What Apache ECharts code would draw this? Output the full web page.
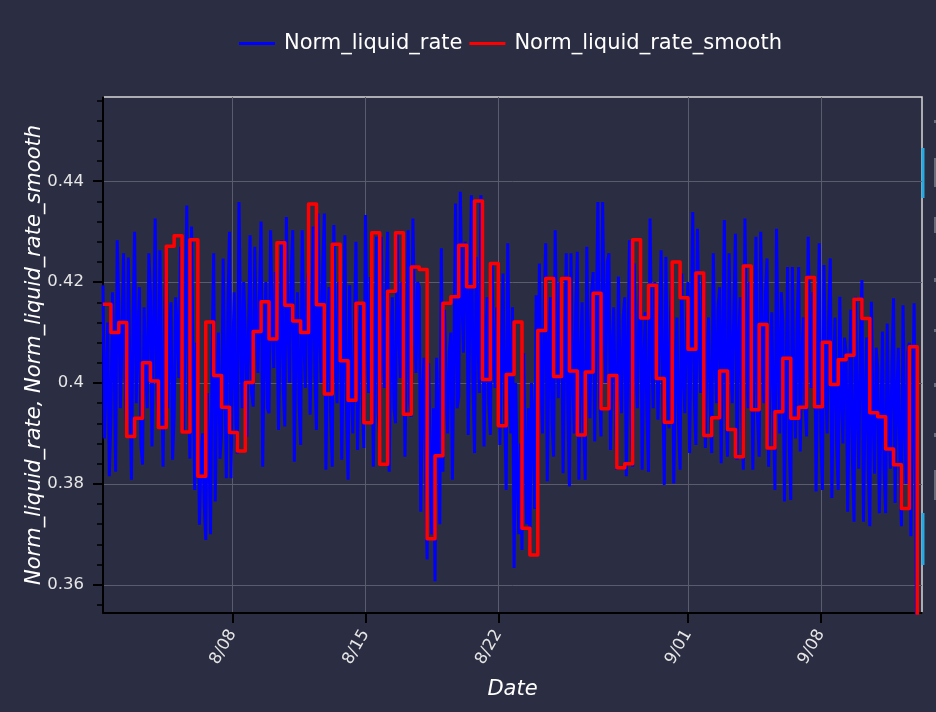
<!DOCTYPE html>
<html><head><meta charset="utf-8">
<script src="https://cdn.jsdelivr.net/npm/echarts@6/dist/echarts.min.js"></script>
<style>html,body{margin:0;padding:0;background:#2b2d42;}#c{width:936px;height:712px;}</style>
</head><body><div id="c"></div>
<script>
// time range (UTC)
const startTime = Date.UTC(2023, 7, 1, 4, 0);
const endTime = Date.UTC(2023, 8, 13, 8, 0);
const HOUR = 3600 * 1000;
const rateStepHours = 2;
const smoothStepHours = 10;

const xTickDates = [Date.UTC(2023,7,8), Date.UTC(2023,7,15), Date.UTC(2023,7,22), Date.UTC(2023,8,1), Date.UTC(2023,8,8)];
const xTickLabels = ['8/08', '8/15', '8/22', '9/01', '9/08'];
const yTickValues = [0.36, 0.38, 0.40, 0.42, 0.44];
const yTickLabels = ['0.36', '0.38', '0.4', '0.42', '0.44'];

// Norm_liquid_rate, every 2 h from startTime
const rateValues = [
0.4194,0.3890,0.4010,0.4120,0.3815, 0.3930,0.4180,0.4060,0.3824,0.4283, 0.4150,0.3950,0.4090,0.4257,0.4010, 0.3900,0.4249,0.4020,0.3808,0.4130,
0.4300,0.3960,0.4080,0.4190,0.3877, 0.3838,0.4150,0.4040,0.3950,0.4257, 0.4180,0.3874,0.4110,0.4326,0.3990, 0.3920,0.4263,0.4030,0.3834,0.4140,
0.4270,0.3950,0.4070,0.4160,0.3848, 0.3933,0.4170,0.4100,0.4010,0.4270, 0.4200,0.3900,0.4130,0.4352,0.3990, 0.3850,0.4310,0.4020,0.3788,0.4080,
0.3973,0.3719,0.3850,0.3900,0.3760, 0.3689,0.3980,0.3870,0.3700,0.4050, 0.4257,0.3765,0.4000,0.4100,0.3850, 0.3900,0.4247,0.4030,0.3811,0.4150,
0.4300,0.3811,0.4050,0.4180,0.3920, 0.3860,0.4359,0.4110,0.3950,0.4200, 0.4100,0.3894,0.4090,0.4293,0.3980, 0.3953,0.4270,0.4110,0.4020,0.4180,
0.4320,0.3834,0.4070,0.4200,0.3950, 0.3940,0.4303,0.4120,0.4030,0.4220, 0.4150,0.3907,0.4090,0.4283,0.3990, 0.3914,0.4329,0.4120,0.4000,0.4210,
0.4303,0.3844,0.4070,0.4180,0.3960, 0.3877,0.4303,0.4090,0.3990,0.4200, 0.4220,0.3937,0.4120,0.4310,0.4020, 0.3907,0.4336,0.4110,0.4000,0.4230,
0.4336,0.3828,0.4080,0.4190,0.3940, 0.3834,0.4313,0.4070,0.3960,0.4200, 0.4180,0.3848,0.4060,0.4293,0.3950, 0.3808,0.4194,0.4000,0.3900,0.4100,
0.4280,0.3867,0.4070,0.4160,0.3960, 0.3871,0.4333,0.4100,0.3980,0.4210, 0.4170,0.3834,0.4060,0.4290,0.3940, 0.3894,0.4290,0.4090,0.3990,0.4180,
0.4300,0.3824,0.4060,0.4170,0.3950, 0.3920,0.4300,0.4110,0.4010,0.4200, 0.4190,0.3854,0.4080,0.4303,0.3960, 0.3933,0.4326,0.4130,0.4020,0.4200,
0.4191,0.3745,0.3970,0.4050,0.3830, 0.3650,0.4039,0.3840,0.3700,0.3950, 0.3607,0.4050,0.3930,0.3720,0.4267, 0.3824,0.4145,0.3990,0.3900,0.4060,
0.4100,0.3808,0.4080,0.4356,0.3950, 0.3973,0.4379,0.4170,0.4060,0.4280, 0.4250,0.3897,0.4130,0.4372,0.4000, 0.3861,0.4250,0.4110,0.3980,0.4372,
0.4273,0.3874,0.4070,0.4170,0.3960, 0.3897,0.4237,0.4060,0.3990,0.4150, 0.4120,0.3877,0.4050,0.4217,0.3960, 0.3788,0.4277,0.4030,0.3900,0.4150,
0.3633,0.4000,0.3820,0.3700,0.3880, 0.3669,0.4059,0.3860,0.3720,0.3950, 0.3679,0.4000,0.3920,0.3750,0.4174, 0.3801,0.4237,0.4020,0.3900,0.4150,
0.4277,0.3805,0.4040,0.4170,0.3920, 0.3854,0.4303,0.4080,0.3970,0.4200, 0.4160,0.3821,0.4040,0.4257,0.3940, 0.3795,0.4257,0.4030,0.3900,0.4150,
0.4260,0.3808,0.4030,0.4160,0.3920, 0.3808,0.4270,0.4040,0.3930,0.4180, 0.4220,0.3884,0.4120,0.4359,0.3990, 0.3894,0.4359,0.4130,0.4000,0.4240,
0.4257,0.3867,0.4060,0.4150,0.3960, 0.3828,0.4211,0.4020,0.3940,0.4130, 0.4170,0.3815,0.4050,0.4283,0.3930, 0.3834,0.4237,0.4040,0.3950,0.4150,
0.4230,0.3828,0.4030,0.4140,0.3940, 0.3824,0.4326,0.4070,0.3950,0.4200, 0.4170,0.3927,0.4090,0.4263,0.4000, 0.3798,0.4250,0.4020,0.3910,0.4140,
0.4230,0.3801,0.4010,0.4130,0.3920, 0.3828,0.4217,0.4020,0.3940,0.4120, 0.4200,0.3861,0.4100,0.4339,0.3970, 0.3877,0.4306,0.4090,0.3980,0.4190,
0.4220,0.3871,0.4050,0.4130,0.3960, 0.3861,0.4257,0.4060,0.3960,0.4150, 0.4190,0.3841,0.4080,0.4323,0.3950, 0.3854,0.4257,0.4050,0.3960,0.4150,
0.4296,0.3848,0.4070,0.4170,0.3950, 0.3828,0.4326,0.4080,0.3950,0.4200, 0.4170,0.3828,0.4060,0.4290,0.3930, 0.3854,0.4300,0.4080,0.3960,0.4180,
0.4247,0.3834,0.4040,0.4140,0.3940, 0.3788,0.4306,0.4050,0.3900,0.4180, 0.4120,0.3765,0.4000,0.4230,0.3880, 0.3768,0.4230,0.4000,0.3890,0.4120,
0.4230,0.3864,0.4050,0.4130,0.3960, 0.3894,0.4290,0.4090,0.3990,0.4180, 0.4160,0.3785,0.4030,0.4277,0.3900, 0.3788,0.4234,0.4010,0.3900,0.4130,
0.4247,0.3772,0.4010,0.4130,0.3880, 0.3788,0.4171,0.3980,0.3880,0.4090, 0.4060,0.3745,0.3950,0.4145,0.3850, 0.3725,0.4171,0.3950,0.3830,0.4080,
0.4204,0.3725,0.3960,0.4090,0.3830, 0.3716,0.4161,0.3940,0.3820,0.4070, 0.4030,0.3742,0.3920,0.4102,0.3830, 0.3742,0.4118,0.3930,0.3830,0.4040,
0.4168,0.3762,0.3970,0.4070,0.3850, 0.3716,0.4154,0.3940,0.3800,0.4060, 0.4080,0.3696,0.3930,0.4158,0.3780,
0.3300,0.3250,0.3200
];

// Norm_liquid_rate_smooth, one value per 10 h block from startTime
const smoothValues = [
0.4156,0.4100,0.4120,0.3894,0.3930,0.4040,0.4004,0.3912,0.4271,0.4292,
0.3903,0.4284,0.3815,0.4121,0.4015,0.3952,0.3902,0.3865,0.4001,0.4102,
0.4161,0.4087,0.4278,0.4154,0.4123,0.4100,0.4355,0.4155,0.3978,0.4275,
0.4044,0.3966,0.4158,0.3921,0.4298,0.3839,0.4182,0.4298,0.3938,0.4230,
0.4225,0.3691,0.3856,0.4158,0.4171,0.4273,0.4191,0.4361,0.4007,0.4237,
0.3915,0.4017,0.4121,0.3712,0.3659,0.4104,0.4207,0.4013,0.4207,0.4024,
0.3897,0.4022,0.4178,0.3949,0.4015,0.3832,0.3840,0.4284,0.4129,0.4194,
0.4009,0.3922,0.4240,0.4169,0.4067,0.4218,0.3896,0.3931,0.4024,0.3908,
0.3854,0.4232,0.3947,0.4116,0.3871,0.3943,0.4049,0.3930,0.3952,0.4209,
0.3953,0.4081,0.3997,0.4046,0.4055,0.4166,0.4128,0.3941,0.3933,0.3869,
0.3838,0.3751,0.4072,0.3300
];

const rateData = rateValues.map((v, i) => [startTime + i * rateStepHours * HOUR, v]);
const smoothData = smoothValues.map((v, k) => [startTime + k * smoothStepHours * HOUR, v]);
smoothData.push([endTime, smoothValues[smoothValues.length - 1]]);

function nearestLabel(v, vals, labels) {
  let best = 0;
  for (let i = 0; i < vals.length; i++) if (Math.abs(vals[i] - v) < Math.abs(vals[best] - v)) best = i;
  return labels[best];
}

const FONT = 'DejaVu Sans';
const LABEL_COLOR = '#e6e6e6';
const GRID_COLOR = '#5a5c6e';

const chart = echarts.init(document.getElementById('c'), null, {renderer: 'canvas'});
chart.setOption({
  backgroundColor: '#2b2d42',
  animation: false,
  legend: {
    left: 234, top: 28,
    icon: 'rect', itemWidth: 36, itemHeight: 3, itemGap: 7,
    textStyle: {color: '#ffffff', fontSize: 21, fontFamily: FONT, padding: [0, 0, 0, 4]},
    data: ['Norm_liquid_rate', 'Norm_liquid_rate_smooth']
  },
  grid: {left: 103, top: 97, width: 819, height: 516, show: true, borderColor: '#d8d8d8', borderWidth: 1.5, backgroundColor: 'transparent', containLabel: false, outerBoundsMode: 'none'},
  xAxis: {
    type: 'value', min: startTime, max: endTime, scale: true,
    name: 'Date', nameLocation: 'middle', nameGap: 66, nameMoveOverlap: false,
    nameTextStyle: {color: '#ffffff', fontSize: 21, fontStyle: 'italic', fontFamily: FONT},
    axisLine: {show: true, onZero: false, lineStyle: {color: '#000000', width: 2}},
    axisTick: {show: true, length: 10, customValues: xTickDates, lineStyle: {color: '#000000', width: 2}},
    minorTick: {show: false},
    axisLabel: {
      customValues: xTickDates, rotate: 60, margin: 18, color: LABEL_COLOR, fontSize: 16.5, fontFamily: FONT,
      formatter: function (v) { return nearestLabel(v, xTickDates, xTickLabels); }
    },
    splitLine: {show: true, lineStyle: {color: GRID_COLOR, width: 1}}
  },
  yAxis: {
    type: 'value', min: 0.3544, max: 0.4567, splitNumber: 5,
    name: 'Norm_liquid_rate, Norm_liquid_rate_smooth', nameLocation: 'middle', nameGap: 58, nameMoveOverlap: false,
    nameTextStyle: {color: '#ffffff', fontSize: 21, fontStyle: 'italic', fontFamily: FONT},
    axisLine: {show: true, onZero: false, lineStyle: {color: '#000000', width: 2}},
    axisTick: {show: true, length: 10, customValues: yTickValues, lineStyle: {color: '#000000', width: 2}},
    minorTick: {show: true, splitNumber: 5, length: 6, lineStyle: {color: '#000000', width: 1.5}},
    axisLabel: {
      customValues: yTickValues, margin: 19, color: LABEL_COLOR, fontSize: 16.5, fontFamily: FONT,
      formatter: function (v) { return nearestLabel(v, yTickValues, yTickLabels); }
    },
    splitLine: {show: true, lineStyle: {color: GRID_COLOR, width: 1}}
  },
  series: [
    {name: 'Norm_liquid_rate', type: 'line', data: rateData, symbol: 'none', showSymbol: false, clip: true,
     itemStyle: {color: '#0000ff'}, lineStyle: {color: '#0000ff', width: 3}},
    {name: 'Norm_liquid_rate_smooth', type: 'line', step: 'end', data: smoothData, symbol: 'none', showSymbol: false, clip: true,
     itemStyle: {color: '#ff0000'}, lineStyle: {color: '#ff0000', width: 3.5, join: 'round'}}
  ],
  graphic: [
    {type: 'rect', shape: {x: 921.5, y: 148, width: 3, height: 50}, style: {fill: '#26aae1'}},
    {type: 'rect', shape: {x: 921.5, y: 513, width: 3, height: 52}, style: {fill: '#26aae1'}},
    {type: 'rect', shape: {x: 934, y: 120, width: 2, height: 3}, style: {fill: '#6a6c7a'}},
    {type: 'rect', shape: {x: 934, y: 158, width: 2, height: 29}, style: {fill: '#6a6c7a'}},
    {type: 'rect', shape: {x: 934, y: 217, width: 2, height: 16}, style: {fill: '#6a6c7a'}},
    {type: 'rect', shape: {x: 934, y: 278, width: 2, height: 4}, style: {fill: '#6a6c7a'}},
    {type: 'rect', shape: {x: 934, y: 329, width: 2, height: 3}, style: {fill: '#6a6c7a'}},
    {type: 'rect', shape: {x: 934, y: 383, width: 2, height: 4}, style: {fill: '#6a6c7a'}},
    {type: 'rect', shape: {x: 934, y: 433, width: 2, height: 4}, style: {fill: '#6a6c7a'}},
    {type: 'rect', shape: {x: 934, y: 470, width: 2, height: 30}, style: {fill: '#6a6c7a'}}
  ]
});
</script>
</body></html>
